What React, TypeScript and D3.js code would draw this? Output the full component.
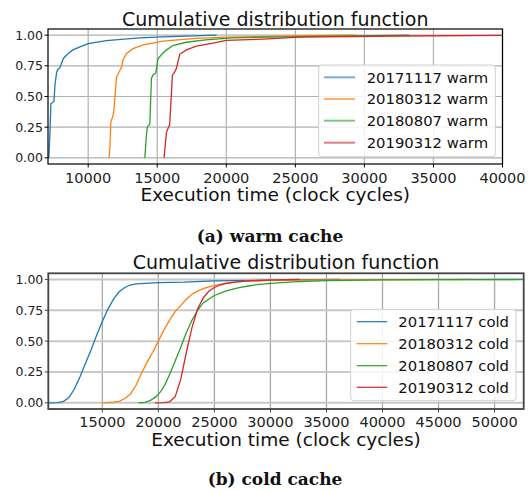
import * as d3 from 'd3';

type Pt = [number, number];

const W = 531;
const H = 491;
const COLORS = ['#1f77b4', '#ff7f0e', '#2ca02c', '#d62728'];
const VERSIONS = ['20171117', '20180312', '20180807', '20190312'];
const Y_TICKS = [0, 0.25, 0.5, 0.75, 1];
const WARM_X_TICKS = [10000, 15000, 20000, 25000, 30000, 35000, 40000];
const COLD_X_TICKS = [15000, 20000, 25000, 30000, 35000, 40000, 45000, 50000];
const TITLE = 'Cumulative distribution function';
const X_LABEL = 'Execution time (clock cycles)';

// warm cache: empirical CDFs (execution time, fraction)
const warm20171117: Pt[] = [
  [7150, 0], [7230, 0.2], [7300, 0.44], [7520, 0.46], [7600, 0.6], [7720, 0.7],
  [7800, 0.72], [7950, 0.735], [8200, 0.81], [8550, 0.85], [8900, 0.88],
  [9400, 0.905], [10000, 0.93], [11300, 0.955], [13700, 0.978], [15400, 0.986], [19300, 1.0],
];
const warm20180312: Pt[] = [
  [11500, 0], [11570, 0.08], [11640, 0.29], [11810, 0.35], [11870, 0.4], [12050, 0.66],
  [12240, 0.7], [12415, 0.74], [12530, 0.8], [12780, 0.85], [13250, 0.89], [13740, 0.91],
  [14000, 0.92], [15400, 0.952], [17800, 0.973], [20200, 0.983], [23000, 0.99],
  [26000, 0.995], [29400, 1.0],
];
const warm20180807: Pt[] = [
  [14100, 0], [14220, 0.19], [14290, 0.255], [14460, 0.27], [14580, 0.65], [14700, 0.676],
  [14890, 0.69], [15060, 0.81], [15300, 0.84], [15670, 0.88], [16140, 0.915],
  [17100, 0.942], [18500, 0.961], [20400, 0.978], [25300, 0.988], [33250, 1.0],
];
const warm20190312: Pt[] = [
  [15490, 0], [15670, 0.21], [15780, 0.24], [15900, 0.27], [16100, 0.676], [16270, 0.7],
  [16390, 0.73], [16630, 0.844], [17110, 0.88], [17830, 0.91], [19030, 0.935],
  [20000, 0.958], [22700, 0.968], [25300, 0.983], [32500, 0.993], [40000, 0.998],
];

// cold cache
const cold20171117: Pt[] = [
  [10200, 0], [11000, 0.002], [11500, 0.01], [12000, 0.04], [12500, 0.11], [13000, 0.21],
  [13500, 0.32], [14000, 0.43], [14500, 0.55], [15000, 0.66], [15500, 0.76], [16000, 0.84],
  [16500, 0.9], [17000, 0.935], [17500, 0.955], [18000, 0.965], [20000, 0.975],
  [22300, 0.978], [25000, 0.988], [30000, 0.995], [36200, 1.0],
];
const cold20180312: Pt[] = [
  [14950, 0], [15500, 0.002], [16000, 0.005], [16500, 0.012], [17000, 0.035], [17500, 0.07],
  [18000, 0.14], [18500, 0.24], [19000, 0.33], [19500, 0.41], [20000, 0.5], [20500, 0.59],
  [21000, 0.67], [21500, 0.74], [22000, 0.79], [22500, 0.84], [23000, 0.88], [23500, 0.905],
  [24000, 0.925], [24500, 0.94], [25000, 0.95], [26000, 0.97], [27000, 0.98],
  [28000, 0.986], [30000, 0.992], [35000, 0.996], [48000, 1.0],
];
const cold20180807: Pt[] = [
  [18220, 0], [18800, 0.003], [19300, 0.02], [19800, 0.05], [20200, 0.09], [20600, 0.15],
  [21000, 0.23], [21500, 0.34], [22000, 0.45], [22500, 0.57], [23000, 0.67], [23500, 0.75],
  [24000, 0.81], [24500, 0.84], [25000, 0.87], [26000, 0.905], [27000, 0.93],
  [28000, 0.947], [29000, 0.96], [30000, 0.968], [32000, 0.98], [35000, 0.99],
  [40000, 0.996], [45000, 0.998], [52600, 1.0],
];
const cold20190312: Pt[] = [
  [19700, 0], [20500, 0.001], [21000, 0.008], [21500, 0.05], [22000, 0.19], [22500, 0.41],
  [23000, 0.61], [23500, 0.76], [24000, 0.85], [24500, 0.905], [25000, 0.935],
  [25500, 0.955], [26000, 0.967], [27000, 0.98], [28000, 0.988], [30000, 0.995], [32600, 1.0],
];

const WARM_SERIES = [warm20171117, warm20180312, warm20180807, warm20190312];
const COLD_SERIES = [cold20171117, cold20180312, cold20180807, cold20190312];

const SANS = 'DejaVu Sans, sans-serif';

type PanelProps = {
  id: string;
  box: { left: number; right: number; top: number; bottom: number };
  xDomain: [number, number];
  xTicks: number[];
  series: Pt[][];
  suffix: string;
  legend: { x: number; y: number; w: number; h: number; rowY: number[]; lineX: [number, number]; textX: number };
  legendLine: { width: number; opacity: number };
  spine: { color: string; width: number };
  gridH: { color: string; width: number };
  gridV: { color: string; width: number };
  titleY: number;
  tickY: number;
  labelY: number;
};

function Panel(p: PanelProps) {
  const { box } = p;
  const x = d3.scaleLinear().domain(p.xDomain).range([box.left, box.right]);
  const y = d3.scaleLinear().domain([-0.05, 1.05]).range([box.bottom, box.top]);
  const line = d3.line<Pt>().x((d) => x(d[0])).y((d) => y(d[1])).curve(d3.curveLinear);
  const cx = (box.left + box.right) / 2;
  const lg = p.legend;

  return (
    <g>
      <defs>
        <clipPath id={`clip-${p.id}`}>
          <rect x={box.left} y={box.top} width={box.right - box.left} height={box.bottom - box.top} />
        </clipPath>
      </defs>
      <rect x={box.left} y={box.top} width={box.right - box.left} height={box.bottom - box.top} fill="#fff" />

      {/* grid */}
      {p.xTicks.map((t) => (
        <line key={`gx${t}`} x1={x(t)} x2={x(t)} y1={box.top} y2={box.bottom}
          stroke={p.gridV.color} strokeWidth={p.gridV.width} />
      ))}
      {Y_TICKS.map((t) => (
        <line key={`gy${t}`} x1={box.left} x2={box.right} y1={y(t)} y2={y(t)}
          stroke={p.gridH.color} strokeWidth={p.gridH.width} />
      ))}

      {/* curves */}
      <g clipPath={`url(#clip-${p.id})`}>
        {p.series.map((s, i) => (
          <path key={i} d={line(s) ?? ''} fill="none" stroke={COLORS[i]} strokeWidth={1.3} />
        ))}
      </g>

      {/* spines */}
      <rect x={box.left} y={box.top} width={box.right - box.left} height={box.bottom - box.top}
        fill="none" stroke={p.spine.color} strokeWidth={p.spine.width} />

      {/* ticks */}
      {p.xTicks.map((t) => (
        <g key={`tx${t}`}>
          <line x1={x(t)} x2={x(t)} y1={box.bottom} y2={box.bottom + 3.5} stroke={p.spine.color} strokeWidth={1} />
          <text x={x(t)} y={p.tickY} textAnchor="middle" fontSize={14.5} fontFamily={SANS} fill="#222">{t}</text>
        </g>
      ))}
      {Y_TICKS.map((t) => (
        <g key={`ty${t}`}>
          <line x1={box.left - 3.5} x2={box.left} y1={y(t)} y2={y(t)} stroke={p.spine.color} strokeWidth={1} />
          <text x={box.left - 5} y={y(t)} dy="0.36em" textAnchor="end" fontSize={12.5} fontFamily={SANS} fill="#222">
            {d3.format('.2f')(t)}
          </text>
        </g>
      ))}

      <text x={cx} y={p.titleY} textAnchor="middle" fontSize={19} fontFamily={SANS} fill="#111">{TITLE}</text>
      <text x={cx} y={p.labelY} textAnchor="middle" fontSize={18.5} fontFamily={SANS} fill="#111">{X_LABEL}</text>

      {/* legend */}
      <rect x={lg.x} y={lg.y} width={lg.w} height={lg.h} rx={3} fill="#fff" fillOpacity={0.85}
        stroke="#d0d0d0" strokeWidth={1} />
      {VERSIONS.map((v, i) => (
        <g key={v}>
          <line x1={lg.lineX[0]} x2={lg.lineX[1]} y1={lg.rowY[i]} y2={lg.rowY[i]} stroke={COLORS[i]}
            strokeWidth={p.legendLine.width} strokeOpacity={p.legendLine.opacity} />
          <text x={lg.textX} y={lg.rowY[i]} dy="0.36em" fontSize={14.8} fontFamily={SANS} fill="#111">
            {`${v} ${p.suffix}`}
          </text>
        </g>
      ))}
    </g>
  );
}

export default function App() {
  return (
    <svg width={W} height={H} style={{ position: 'absolute', left: 0, top: 0, background: '#fff' }}>
      <rect width={W} height={H} fill="#fff" />
      <Panel
        id="warm"
        box={{ left: 48, right: 502.5, top: 29, bottom: 164 }}
        xDomain={[7090, 40000]}
        xTicks={WARM_X_TICKS}
        series={WARM_SERIES}
        suffix="warm"
        legend={{ x: 318.7, y: 65, w: 176.6, h: 91.7, rowY: [77.3, 99, 120.7, 142.7], lineX: [324, 355], textX: 366.7 }}
        legendLine={{ width: 2, opacity: 0.6 }}
        spine={{ color: '#000', width: 1.2 }}
        gridH={{ color: '#b0b0b0', width: 1.2 }}
        gridV={{ color: '#b0b0b0', width: 1.2 }}
        titleY={26}
        tickY={182.5}
        labelY={201}
      />
      <text x={270} y={242} textAnchor="middle" fontSize={17} fontWeight="bold" fontFamily="DejaVu Serif, serif" fill="#111">
        (a) warm cache
      </text>
      <Panel
        id="cold"
        box={{ left: 48.3, right: 523.7, top: 273.3, bottom: 409 }}
        xDomain={[10180, 52600]}
        xTicks={COLD_X_TICKS}
        series={COLD_SERIES}
        suffix="cold"
        legend={{ x: 350.7, y: 309.3, w: 165.3, h: 91.4, rowY: [321.7, 343.7, 365.7, 387.3], lineX: [356.7, 387.3], textX: 398.3 }}
        legendLine={{ width: 1.2, opacity: 1 }}
        spine={{ color: '#444', width: 1.8 }}
        gridH={{ color: '#c8c8c8', width: 2 }}
        gridV={{ color: '#a8a8a8', width: 1.3 }}
        titleY={269}
        tickY={426.5}
        labelY={446}
      />
      <text x={275} y={485} textAnchor="middle" fontSize={17} fontWeight="bold" fontFamily="DejaVu Serif, serif" fill="#111">
        (b) cold cache
      </text>
    </svg>
  );
}
